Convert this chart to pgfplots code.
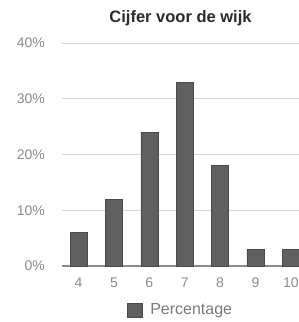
\documentclass[border=0pt]{standalone}
\usepackage{pgfplots}
\pgfplotsset{compat=1.18}
\usepackage{fontspec}
\setmainfont{Liberation Sans}
\definecolor{barfill}{HTML}{606060}
\definecolor{bardraw}{HTML}{4A4A4A}
\definecolor{gridgray}{HTML}{D6D6D6}
\definecolor{axisgray}{HTML}{8C8C8C}
\definecolor{ticktext}{HTML}{8A8A8A}
\definecolor{titletext}{HTML}{2A2A2A}
\definecolor{legtext}{HTML}{7A7A7A}
\begin{document}
\begin{tikzpicture}
\begin{axis}[
  at={(0,0)}, anchor=south west,
  scale only axis, width=237pt, height=223pt,
  xmin=3.53, xmax=10.23, ymin=0, ymax=40,
  ytick={0,10,20,30,40},
  yticklabel={\pgfmathprintnumber{\tick}\%},
  xtick={4,5,6,7,8,9,10},
  /pgf/number format/assume math mode=true,
  ymajorgrids, grid style={draw=gridgray, line width=1pt},
  axis x line*=bottom, axis y line*=left,
  y axis line style={draw=none},
  x axis line style={draw=axisgray, line width=1.2pt, -},
  major tick length=0pt,
  tick label style={font=\fontsize{14}{16}\selectfont, text=ticktext},
  yticklabel style={inner sep=0pt, anchor=east, xshift=-17pt},
  xticklabel style={inner sep=0pt, anchor=north, yshift=-12pt},
  title={Cijfer voor de wijk},
  title style={font=\bfseries\fontsize{16.5}{18}\selectfont, text=titletext, at={(0.5,1)}, anchor=center, yshift=19pt},
  legend style={at={(0.5,0)}, anchor=center, yshift=-44pt, draw=none, fill=none, font=\fontsize{16}{18}\selectfont, text=legtext, column sep=6pt},
  ybar, bar width=17pt,
]
\addplot[fill=barfill, draw=bardraw, legend image code/.code={\draw[fill=barfill, draw=bardraw] (0pt,-7pt) rectangle (15pt,7pt);}] coordinates {(4,6) (5,12) (6,24) (7,33) (8,18) (9,3) (10,3)};
\addlegendentry{Percentage}
\end{axis}
\pgfresetboundingbox
\useasboundingbox (-62pt,-56pt) rectangle (237pt,266pt);
\end{tikzpicture}
\end{document}
